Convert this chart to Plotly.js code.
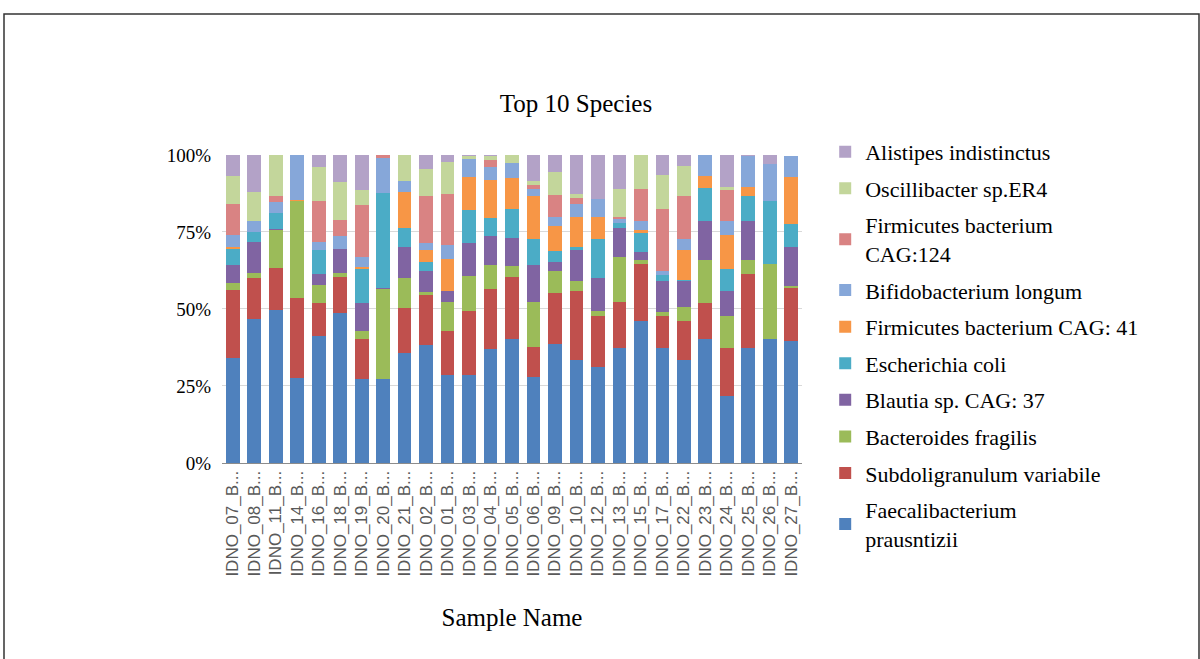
<!DOCTYPE html>
<html>
<head>
<meta charset="utf-8">
<script src="https://cdn.plot.ly/plotly-3.0.1.min.js"></script>
<style>html,body{margin:0;padding:0;background:#fff;}#chart{width:1200px;height:659px;}</style>
</head>
<body>
<div id="chart"></div>
<script>
const samples = ["IDNO_07_B...","IDNO_08_B...","IDNO_11_B...","IDNO_14_B...","IDNO_16_B...","IDNO_18_B...","IDNO_19_B...","IDNO_20_B...","IDNO_21_B...","IDNO_02_B...","IDNO_01_B...","IDNO_03_B...","IDNO_04_B...","IDNO_05_B...","IDNO_06_B...","IDNO_09_B...","IDNO_10_B...","IDNO_12_B...","IDNO_13_B...","IDNO_15_B...","IDNO_17_B...","IDNO_22_B...","IDNO_23_B...","IDNO_24_B...","IDNO_25_B...","IDNO_26_B...","IDNO_27_B..."];

const faecalibacterium = [34.2,46.6,49.6,27.5,41.3,48.8,27.3,27.3,35.6,38.3,28.6,28.6,37.0,40.2,28.0,38.5,33.4,31.3,37.2,46.1,37.2,33.4,40.2,21.6,37.2,40.2,39.7];
const subdoligranulum = [22.1,13.5,13.7,25.9,10.5,11.6,12.9,0,14.8,16.2,14.2,20.7,19.4,20.2,9.5,16.8,22.4,16.5,15.1,18.6,10.6,12.7,11.6,15.6,24.3,0,17.2];
const bacteroides = [2.0,1.6,12.2,31.8,5.9,1.4,2.6,29.1,9.7,1.1,9.5,11.3,7.8,3.6,14.8,6.9,3.2,1.5,14.6,1.1,1.3,4.6,14.0,10.5,4.3,24.5,0.6];
const blautia = [6.1,10.0,0.6,0,3.8,7.8,9.0,0.5,10.0,6.6,3.5,10.9,9.5,9.0,11.9,3.1,10.0,10.8,9.5,2.7,9.9,8.3,12.6,8.1,12.9,0,12.6];
const escherichia = [5.0,3.3,5.1,0,7.5,0,11.3,30.8,6.3,3.1,0,10.5,5.8,9.5,8.6,3.4,1.1,12.5,1.6,6.3,1.9,0.3,10.8,7.3,8.1,20.5,7.6];
const firmicutes41 = [0.7,0,0,0.3,0,0,0.5,0,11.5,3.7,10.5,10.8,12.2,9.9,14.0,8.2,9.7,7.2,0,0.7,0,9.7,4.1,11.0,2.7,0,15.1];
const bifidobacterium = [4.0,3.4,3.5,14.4,2.7,4.1,3.3,11.4,3.5,2.5,4.6,5.9,4.3,5.0,2.0,2.9,4.3,6.0,1.1,2.9,1.3,3.6,6.7,4.3,10.3,11.9,7.0];
const firmicutes124 = [10.0,0,2.1,0,13.5,5.3,16.7,0.9,0,15.3,16.5,0,2.2,0,1.5,7.3,1.9,0,0.9,10.4,20.3,14.2,0,10.1,0,0,0];
const oscillibacter = [9.2,9.5,13.2,0,10.8,12.2,4.9,0,8.6,8.5,10.4,0.8,1.6,2.6,1.1,7.5,1.4,0,8.8,11.2,11.0,9.5,0,1.0,0,0,0];
const alistipes = [6.7,12.1,0,0.1,4.0,8.8,11.5,0,0,4.7,2.2,0.5,0.2,0,8.6,5.4,12.6,14.2,11.2,0,6.5,3.7,0,10.5,0.2,2.9,0];

const seriesNames = ["Faecalibacterium<br>prausntizii","Subdoligranulum variabile","Bacteroides fragilis","Blautia sp. CAG: 37","Escherichia coli","Firmicutes bacterium CAG: 41","Bifidobacterium longum","Firmicutes bacterium<br>CAG:124","Oscillibacter sp.ER4","Alistipes indistinctus"];
const seriesValues = [faecalibacterium,subdoligranulum,bacteroides,blautia,escherichia,firmicutes41,bifidobacterium,firmicutes124,oscillibacter,alistipes];
const seriesColors = ["#4F81BD","#C0504D","#9BBB59","#8064A2","#4BACC6","#F79646","#86A7D9","#D98383","#C3D69B","#B3A2C7"];

const traces = seriesNames.map((n,i)=>({
  type:'bar', name:n, x:samples, y:seriesValues[i],
  marker:{color:seriesColors[i], line:{width:0}},
  legendgroup:'g'+i, legendrank:seriesNames.length - i, hoverinfo:'name+y'
}));

const serif = "Liberation Serif, Times New Roman, serif";
const layout = {
  width:1200, height:659,
  margin:{l:222, r:398, t:154, b:196},
  paper_bgcolor:'#fff', plot_bgcolor:'#fff',
  barmode:'stack', bargap:0.36,
  showlegend:true,
  title:{text:'Top 10 Species', font:{family:serif, size:25, color:'#000'}, x:0.48, xanchor:'center', xref:'container', y:0.843, yanchor:'middle', yref:'container'},
  xaxis:{
    type:'category', tickangle:-90,
    tickmode:'array', tickvals:samples, ticktext:samples,
    tickfont:{family:"Liberation Sans, Arial, sans-serif", size:17, color:'#595959'},
    showline:true, linecolor:'#8c8c8c', linewidth:1,
    showgrid:false, ticks:'', automargin:false,
    title:{text:'Sample Name', font:{family:serif, size:25, color:'#000'}, standoff:32}
  },
  yaxis:{
    range:[0,100.3], tickvals:[0,25,50,75,100], ticktext:['0%','25%','50%','75%','100%'],
    tickfont:{family:serif, size:19, color:'#000'},
    showgrid:true, gridcolor:'#d9d9d9', gridwidth:1,
    zeroline:false, showline:false, ticks:'', ticklabelstandoff:10, automargin:false
  },
  legend:{
    x:1.04, xanchor:'left', y:1.075, yanchor:'top',
    traceorder:'grouped', tracegroupgap:5, maxheight:640,
    font:{family:serif, size:22, color:'#000'},
    bgcolor:'rgba(0,0,0,0)', itemclick:false
  },
  shapes:[{
    type:'rect', xref:'paper', yref:'paper',
    x0:(4-222)/580, x1:(1199-222)/580, y0:(463-662)/309, y1:(463-14)/309,
    line:{color:'#333', width:1.5}, fillcolor:'rgba(0,0,0,0)', layer:'below'
  }]
};

Plotly.newPlot('chart', traces, layout, {displayModeBar:false, staticPlot:true});
</script>
</body>
</html>
